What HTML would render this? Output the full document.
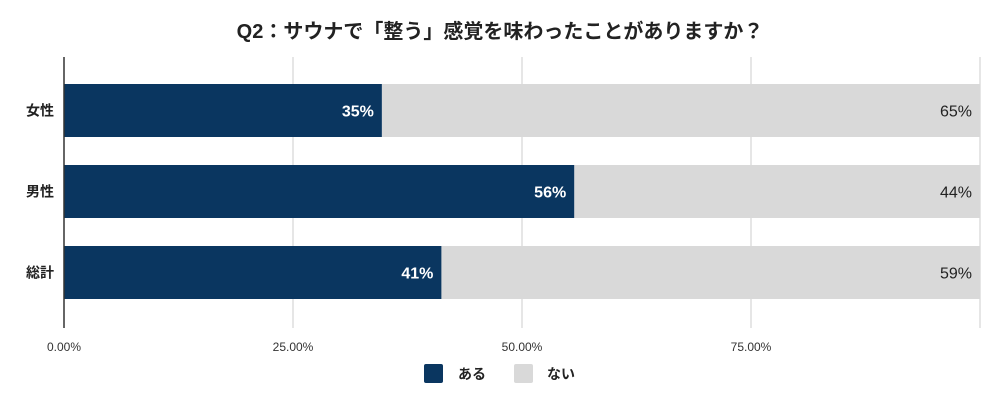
<!DOCTYPE html>
<html><head><meta charset="utf-8"><style>
body{margin:0;background:#fff;width:1000px;height:404px;overflow:hidden}
svg{font-family:"Liberation Sans","Noto Sans CJK JP",sans-serif}
</style></head><body>
<svg id="c" width="1000" height="404">
<text x="500" y="38" text-anchor="middle" font-size="20" font-weight="bold" fill="#222">Q2：サウナで「整う」感覚を味わったことがありますか？</text>
<g id="grid"></g><g id="bars"></g>
<line x1="64" y1="57" x2="64" y2="328" stroke="#333" stroke-width="1.5"/>
<g>
<rect x="424" y="364" width="19" height="19" rx="2" fill="#0a3660"/>
<text x="458" y="379" font-size="14" font-weight="bold" fill="#222">ある</text>
<rect x="514" y="364" width="19" height="19" rx="2" fill="#d9d9d9"/>
<text x="547" y="379" font-size="14" font-weight="bold" fill="#222">ない</text>
</g>
</svg>
<script>
const categories=["女性","男性","総計"];
const aruValues=[34.7,55.7,41.2];
const aruLabels=["35%","56%","41%"];
const naiLabels=["65%","44%","59%"];
const ticks=[0,25,50,75];
const tickLabels=["0.00%","25.00%","50.00%","75.00%"];
const NS="http://www.w3.org/2000/svg";
const x=v=>64+v*9.16;
const bandTop=[84,166,246], bh=53;
const y=i=>84+i*81;
const grid=document.getElementById('grid'),bars=document.getElementById('bars');
function mk(p,t,a){const e=document.createElementNS(NS,t);for(const k in a)e.setAttribute(k,a[k]);p.appendChild(e);return e;}
ticks.forEach((t,i)=>{
 if(t>0){const l=mk(grid,'line',{x1:x(t),x2:x(t),y1:57,y2:328,stroke:'#ccc','stroke-width':1});
 
 }
 const tx=mk(grid,'text',{x:x(t),y:351,'text-anchor':'middle','font-size':12,fill:'#333'});
 tx.textContent=tickLabels[i];
 
 
});
{const l=mk(grid,'line',{x1:x(100),x2:x(100),y1:57,y2:328,stroke:'#ccc','stroke-width':1});

}
categories.forEach((c,i)=>{
 const yy=y(i);
 const r2=mk(bars,'rect',{x:x(aruValues[i]),y:yy,width:x(100)-x(aruValues[i]),height:bh,fill:'#d9d9d9'});
 
 
 const r=mk(bars,'rect',{x:x(0),y:yy,width:x(aruValues[i])-x(0),height:bh,fill:'#0a3660'});
 
 
 const t1=mk(bars,'text',{x:x(aruValues[i])-8,y:yy+bh/2+6,'text-anchor':'end','font-size':16,'font-weight':'bold',fill:'#fff'});
 t1.textContent=aruLabels[i];
 
 
 const t2=mk(bars,'text',{x:x(100)-8,y:yy+bh/2+6,'text-anchor':'end','font-size':16,fill:'#222'});
 t2.textContent=naiLabels[i];
 
 
 const cl=mk(bars,'text',{x:54,y:yy+bh/2+5,'text-anchor':'end','font-size':14,'font-weight':'bold',fill:'#222'});
 cl.textContent=c;
 
 
});
</script>
</body></html>
